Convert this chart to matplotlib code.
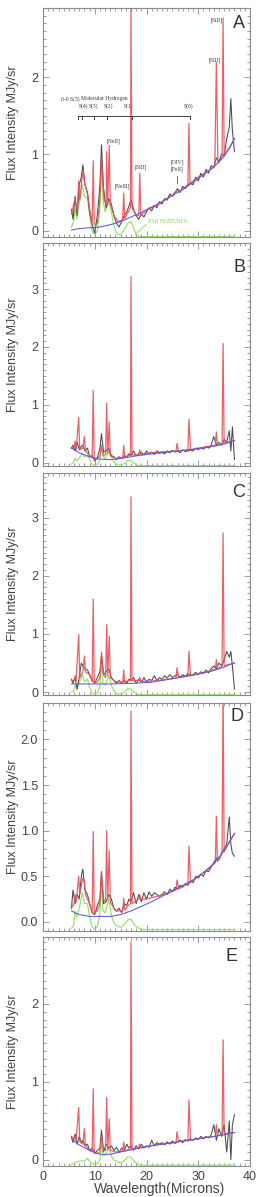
import matplotlib
matplotlib.use("Agg")
import matplotlib.pyplot as plt
from matplotlib.ticker import MultipleLocator

plt.rcParams['font.family'] = ['Liberation Sans', 'DejaVu Sans']

# observed spectrum wavelengths (microns)
obs_wl = [5.5, 5.8, 6.2, 6.6, 7.0, 7.4, 7.7, 8.1, 8.6, 9.0, 9.5, 10.0, 10.5, 11.0, 11.3,
          11.7, 12.2, 12.7, 13.2, 13.7, 14.2, 14.7, 15.2, 15.7, 16.2, 16.6, 17.0, 17.5,
          18.0, 18.5, 19.0, 19.5, 20.0, 20.5, 21.0, 21.5, 22.0, 22.5, 23.0, 23.5, 24.0,
          24.5, 25.0, 25.5, 26.0, 26.5, 27.0, 27.5, 28.0, 28.5, 29.0, 29.5, 30.0, 30.5,
          31.0, 31.5, 32.0, 32.5, 33.0, 33.5, 34.0, 34.5, 35.0, 35.5, 36.0, 36.3, 36.6, 37.0]

obs_A = [0.28, 0.15, 0.45, 0.2, 0.6, 0.7, 0.86, 0.6, 0.5, 0.25, 0.08, -0.03, 0.2, 0.6, 1.12,
         0.55, 0.3, 0.42, 0.35, 0.2, 0.1, 0.05, 0.12, 0.2, 0.25, 0.32, 0.4, 0.28,
         0.2, 0.15, 0.22, 0.18, 0.25, 0.3, 0.26, 0.33, 0.3, 0.38, 0.35, 0.42, 0.4,
         0.48, 0.45, 0.5, 0.55, 0.5, 0.58, 0.55, 0.6, 0.62, 0.6, 0.7, 0.65, 0.75,
         0.7, 0.8, 0.75, 0.85, 0.82, 0.95, 0.9, 1.0, 0.98, 1.2, 1.35, 1.72, 1.3, 1.03]
obs_B = [0.25, 0.3, 0.2, 0.35, 0.22, 0.28, 0.3, 0.2, 0.25, 0.1, 0.12, 0.03, 0.08, 0.25, 0.5,
         0.18, 0.2, 0.25, 0.12, 0.1, 0.05, 0.1, 0.07, 0.12, 0.1, 0.15, 0.12, 0.2,
         0.12, 0.15, 0.18, 0.13, 0.2, 0.15, 0.18, 0.14, 0.2, 0.16, 0.18, 0.15, 0.2,
         0.17, 0.21, 0.18, 0.2, 0.17, 0.22, 0.19, 0.2, 0.22, 0.2, 0.25, 0.22, 0.26,
         0.23, 0.28, 0.25, 0.3, 0.45, 0.3, 0.35, 0.3, 0.4, 0.35, 0.55, 0.2, 0.62, 0.05]
obs_C = [0.22, 0.15, 0.25, 0.05, 0.25, 0.5, 0.45, 0.4, 0.38, 0.3, 0.2, 0.15, 0.25, 0.35, 0.62,
         0.3, 0.35, 0.4, 0.25, 0.2, 0.15, 0.2, 0.15, 0.2, 0.15, 0.22, 0.2, 0.25,
         0.15, 0.22, 0.17, 0.25, 0.18, 0.22, 0.2, 0.28, 0.2, 0.25, 0.22, 0.28, 0.24,
         0.3, 0.25, 0.28, 0.3, 0.25, 0.3, 0.27, 0.32, 0.28, 0.3, 0.34, 0.3, 0.35,
         0.32, 0.38, 0.33, 0.4, 0.45, 0.4, 0.5, 0.45, 0.55, 0.7, 0.6, 0.7, 0.45, 0.05]
obs_D = [0.15, 0.35, 0.2, 0.3, 0.25, 0.5, 0.58, 0.35, 0.3, 0.2, 0.1, 0.08, 0.18, 0.25, 0.55,
         0.2, 0.22, 0.3, 0.25, 0.15, 0.12, 0.15, 0.1, 0.2, 0.18, 0.25, 0.22, 0.32,
         0.2, 0.3, 0.22, 0.32, 0.25, 0.33, 0.28, 0.32, 0.3, 0.28, 0.3, 0.33, 0.3,
         0.36, 0.33, 0.38, 0.36, 0.4, 0.38, 0.42, 0.4, 0.45, 0.43, 0.5, 0.48, 0.52,
         0.5, 0.56, 0.55, 0.6, 0.65, 0.7, 0.68, 0.75, 0.8, 0.85, 1.15, 0.85, 0.75, 0.72]
obs_E = [0.3, 0.22, 0.33, 0.2, 0.3, 0.22, 0.25, 0.18, 0.2, 0.12, 0.15, 0.08, 0.12, 0.15, 0.38,
         0.1, 0.2, 0.15, 0.18, 0.12, 0.16, 0.1, 0.15, 0.12, 0.2, 0.15, 0.18, 0.12,
         0.18, 0.14, 0.2, 0.15, 0.18, 0.16, 0.25, 0.18, 0.22, 0.2, 0.22, 0.19, 0.23,
         0.2, 0.24, 0.21, 0.23, 0.25, 0.22, 0.26, 0.24, 0.27, 0.25, 0.28, 0.26, 0.3,
         0.27, 0.3, 0.28, 0.32, 0.45, 0.25, 0.4, 0.3, 0.45, 0.1, 0.5, 0.0, 0.45, 0.58]

# model fits (red)
fitA_wl = [5.5, 6.2, 6.6, 6.9, 7.1, 7.7, 8.1, 8.6, 9.2, 9.5, 9.7, 9.9, 10.5, 11.0, 11.3, 11.8,
           12.2, 12.3, 12.5, 12.8, 13.0, 13.7, 14.5, 15.4, 15.6, 15.8, 16.5, 16.9, 17.0, 17.2,
           18.0, 18.5, 18.7, 18.9, 20.0, 22.0, 24.0, 25.5, 25.9, 26.3, 28.0, 28.2, 28.4, 30.0,
           32.0, 33.2, 33.5, 33.8, 34.6, 34.8, 35.0, 36.0, 37.0]
fitA = [0.22, 0.42, 0.25, 0.65, 0.4, 0.78, 0.6, 0.48, 0.2, 0.1, 0.91, 0.08, 0.1, 0.4, 0.95, 0.4,
        0.35, 1.03, 0.35, 1.11, 0.35, 0.2, 0.12, 0.15, 0.49, 0.16, 0.25, 0.3, 2.95, 0.3,
        0.2, 0.2, 0.75, 0.2, 0.27, 0.33, 0.42, 0.49, 0.53, 0.5, 0.6, 1.40, 0.62, 0.7,
        0.78, 0.85, 2.19, 0.88, 0.95, 2.77, 1.0, 1.08, 1.2]

fit_wl = [5.5, 6.0, 6.2, 6.4, 6.9, 7.1, 7.7, 8.0, 8.2, 9.0, 9.5, 9.7, 9.9, 10.5, 11.0, 11.3,
          11.7, 12.1, 12.3, 12.5, 12.8, 13.0, 14.0, 15.4, 15.6, 15.8, 16.5, 16.9, 17.0, 17.2,
          18.5, 18.7, 18.9, 20.0, 22.0, 24.0, 25.7, 25.9, 26.2, 28.0, 28.2, 28.5, 30.0, 32.0,
          33.3, 33.5, 33.7, 34.6, 34.8, 35.0, 36.0, 37.0]
fitB = [0.25, 0.25, 0.37, 0.22, 0.78, 0.22, 0.25, 0.45, 0.2, 0.12, 0.08, 1.25, 0.07, 0.06, 0.12, 0.3,
        0.12, 0.15, 1.03, 0.15, 0.7, 0.12, 0.07, 0.08, 0.3, 0.09, 0.12, 0.12, 3.22, 0.13,
        0.13, 0.22, 0.13, 0.16, 0.18, 0.19, 0.2, 0.33, 0.2, 0.22, 0.75, 0.22, 0.25, 0.28,
        0.3, 0.53, 0.3, 0.32, 2.06, 0.33, 0.36, 0.38]
fitC = [0.2, 0.2, 0.28, 0.2, 0.99, 0.25, 0.35, 0.62, 0.35, 0.3, 0.18, 1.6, 0.17, 0.17, 0.25, 0.69,
        0.3, 0.25, 1.16, 0.28, 0.96, 0.25, 0.18, 0.17, 0.38, 0.17, 0.2, 0.2, 3.36, 0.2,
        0.2, 0.25, 0.19, 0.18, 0.2, 0.22, 0.24, 0.42, 0.25, 0.28, 0.7, 0.29, 0.32, 0.36,
        0.4, 0.56, 0.41, 0.44, 2.74, 0.45, 0.48, 0.5]
fitD = [0.15, 0.2, 0.3, 0.22, 0.5, 0.3, 0.48, 0.45, 0.3, 0.2, 0.1, 0.99, 0.1, 0.12, 0.2, 0.55,
        0.25, 0.22, 1.0, 0.25, 0.78, 0.22, 0.12, 0.12, 0.26, 0.13, 0.18, 0.2, 2.31, 0.2,
        0.25, 0.3, 0.25, 0.25, 0.28, 0.31, 0.35, 0.46, 0.36, 0.42, 0.83, 0.43, 0.5, 0.58,
        0.65, 1.16, 0.66, 0.75, 2.6, 0.77, 0.88, 0.97]
fitE = [0.3, 0.27, 0.3, 0.25, 0.67, 0.23, 0.2, 0.4, 0.18, 0.12, 0.1, 0.91, 0.09, 0.08, 0.1, 0.3,
        0.12, 0.12, 0.8, 0.13, 0.53, 0.12, 0.1, 0.11, 0.23, 0.11, 0.13, 0.13, 2.8, 0.13,
        0.15, 0.2, 0.15, 0.17, 0.19, 0.21, 0.22, 0.36, 0.23, 0.25, 0.77, 0.25, 0.27, 0.29,
        0.3, 0.45, 0.31, 0.32, 1.54, 0.33, 0.34, 0.35]

# continuum (blue)
cont_wl = [5.5, 7, 9, 11, 13, 15, 17, 19, 21, 23, 25, 27, 29, 31, 33, 35, 36, 37]
contA = [0.01, 0.03, 0.04, 0.05, 0.08, 0.12, 0.18, 0.24, 0.31, 0.38, 0.46, 0.54, 0.63, 0.73, 0.83, 0.97, 1.07, 1.2]
contB = [0.25, 0.17, 0.1, 0.06, 0.05, 0.07, 0.1, 0.13, 0.15, 0.17, 0.19, 0.21, 0.23, 0.25, 0.28, 0.32, 0.35, 0.38]
contC = [0.14, 0.14, 0.14, 0.14, 0.14, 0.145, 0.15, 0.16, 0.17, 0.2, 0.23, 0.26, 0.29, 0.33, 0.37, 0.43, 0.47, 0.5]
contD = [0.12, 0.08, 0.06, 0.06, 0.06, 0.08, 0.12, 0.17, 0.22, 0.28, 0.34, 0.4, 0.46, 0.54, 0.64, 0.78, 0.87, 0.97]
contE = [0.27, 0.19, 0.12, 0.07, 0.07, 0.1, 0.13, 0.16, 0.18, 0.2, 0.22, 0.24, 0.26, 0.28, 0.3, 0.32, 0.34, 0.35]

# PAH features (green)
pah_wl = [5.5, 5.9, 6.2, 6.5, 7.0, 7.6, 8.0, 8.6, 9.0, 9.5, 10.0, 10.5, 11.0, 11.3, 11.6, 12.0,
          12.7, 13.2, 13.6, 14.0, 14.5, 15.0, 15.5, 16.0, 16.4, 17.0, 17.4, 18.0, 18.5, 19.0, 37.0]
pahA = [0.05, 0.12, 0.3, 0.15, 0.35, 0.6, 0.45, 0.42, 0.2, 0.0, -0.05, 0.0, 0.3, 0.9, 0.4, 0.25,
        0.38, 0.25, 0.1, 0.0, -0.05, -0.05, 0.0, 0.05, 0.1, 0.12, 0.05, -0.04, -0.07, -0.075, -0.075]
pahB = [-0.03, 0.0, 0.08, 0.03, 0.08, 0.15, 0.1, 0.12, 0.05, -0.03, -0.05, -0.03, 0.05, 0.25, 0.1, 0.07,
        0.2, 0.1, 0.03, -0.02, -0.045, -0.045, -0.03, 0.0, 0.04, 0.04, 0.0, -0.04, -0.05, -0.055, -0.055]
pahC = [0.0, 0.02, 0.12, 0.05, 0.15, 0.3, 0.18, 0.22, 0.08, -0.02, -0.04, -0.02, 0.1, 0.5, 0.15, 0.12,
        0.28, 0.12, 0.04, -0.01, -0.035, -0.035, -0.02, 0.02, 0.06, 0.05, 0.01, -0.03, -0.04, -0.045, -0.045]
pahD = [-0.07, -0.04, 0.12, 0.05, 0.15, 0.32, 0.2, 0.2, 0.05, -0.05, -0.08, -0.05, 0.08, 0.45, 0.12, 0.1,
        0.25, 0.08, 0.0, -0.03, -0.05, -0.06, -0.04, -0.01, 0.02, 0.03, -0.01, -0.05, -0.07, -0.085, -0.085]
pahE = [-0.06, -0.05, -0.03, -0.03, -0.02, -0.01, -0.02, 0.02, -0.02, -0.05, -0.06, -0.05, 0.0, 0.21, 0.05, 0.06,
        0.15, 0.05, 0.0, -0.01, -0.03, -0.04, -0.02, 0.01, 0.04, 0.03, 0.0, -0.04, -0.06, -0.07, -0.07]

panels = ['A', 'B', 'C', 'D', 'E']
obs = [obs_A, obs_B, obs_C, obs_D, obs_E]
fits = [(fitA_wl, fitA), (fit_wl, fitB), (fit_wl, fitC), (fit_wl, fitD), (fit_wl, fitE)]
conts = [contA, contB, contC, contD, contE]
pahs = [pahA, pahB, pahC, pahD, pahE]
ylims = [(-0.08, 2.9), (-0.06, 3.8), (-0.05, 3.77), (-0.1, 2.4), (-0.08, 2.86)]
yticks = [[0, 1, 2], [0, 1, 2, 3], [0, 1, 2, 3], [0.0, 0.5, 1.0, 1.5, 2.0], [0, 1, 2]]
letter_pos = [(0.947, 0.934), (0.95, 0.892), (0.947, 0.914), (0.938, 0.939), (0.913, 0.917)]

# H2 line marks in panel A
h2_x = [6.7, 7.6, 9.8, 12.3, 17.2, 28.5]
h2_labels = [('S(4)', 7.8), ('S(3)', 9.8), ('S(2)', 12.6), ('S(1)', 16.5), ('S(0)', 28.2)]
ion_labels = [('[SiII]', 33.5, 2.74), ('[SIII]', 33.2, 2.22), ('[NeII]', 13.7, 1.17),
              ('[SIII]', 18.8, 0.83), ('[NeIII]', 15.4, 0.58), ('[OIV]', 25.9, 0.89),
              ('[FeII]', 25.9, 0.80)]

# axes boxes in figure pixels (top, bottom) for a 262x1197 canvas
W, H = 262, 1197
boxes = [(8, 237), (243, 466), (473, 695), (703, 931), (937, 1166)]

fig = plt.figure(figsize=(W / 100, H / 100), dpi=100)
gray = '#8a8a8a'
txt = '#444444'
serif = ['Liberation Serif', 'DejaVu Serif']

for i, p in enumerate(panels):
    top, bot = boxes[i]
    ax = fig.add_axes([43 / W, (H - bot) / H, 207 / W, (bot - top) / H])
    ax.plot(pah_wl, pahs[i], color='#8ee060', lw=0.8, zorder=2)
    ax.plot(obs_wl, obs[i], color='#4a4a4a', lw=0.75, zorder=3)
    ax.plot(fits[i][0], fits[i][1], color='#e8505a', lw=0.9, alpha=0.9, zorder=4)
    ax.plot(cont_wl, conts[i], color='#5a5ae0', lw=0.75, zorder=5)

    ax.set_xlim(0, 40)
    ax.set_ylim(*ylims[i])
    ax.set_yticks(yticks[i])
    if p == 'D':
        ax.set_yticklabels(['%.1f' % v for v in yticks[i]])
    ax.xaxis.set_major_locator(MultipleLocator(10))
    ax.xaxis.set_minor_locator(MultipleLocator(1))
    ax.yaxis.set_minor_locator(MultipleLocator(0.1))
    ax.tick_params(which='both', direction='in', top=True, right=True, colors=gray,
                   labelcolor=txt, labelsize=9, width=0.6)
    ax.tick_params(which='major', length=4)
    ax.tick_params(which='minor', length=2)
    for s in ax.spines.values():
        s.set_color(gray)
        s.set_linewidth(0.8)
    ax.set_ylabel('Flux Intensity MJy/sr', fontsize=9, color=txt)
    ax.yaxis.set_label_coords(-0.115, 0.5)
    if p != 'E':
        ax.tick_params(labelbottom=False)
    else:
        ax.set_xlabel('Wavelength(Microns)', fontsize=10, color=txt)
        ax.xaxis.set_label_coords(0.565, -0.072)
    ax.text(letter_pos[i][0], letter_pos[i][1], p, transform=ax.transAxes,
            ha='center', va='center', fontsize=13, color='#333333')

    if p == 'A':
        ax.plot([h2_x[0], h2_x[-1]], [1.5, 1.5], color='#444444', lw=0.7, zorder=6)
        for hx in h2_x:
            ax.plot([hx, hx], [1.5, 1.46], color='#444444', lw=0.7, zorder=6)
        for lab, lx in h2_labels:
            ax.text(lx, 1.62, lab, fontsize=4, family=serif, color='#333333',
                    ha='center', va='center')
        ax.text(5.3, 1.72, '0-0 S(5)', fontsize=4, family=serif, color='#333333',
                ha='center', va='center')
        ax.text(11.9, 1.72, 'Molecular Hydrogen', fontsize=4, family=serif,
                color='#333333', ha='center', va='center')
        for lab, lx, ly in ion_labels:
            ax.text(lx, ly, lab, fontsize=4, family=serif, color='#333333',
                    ha='center', va='center')
        ax.plot([25.9, 25.9], [0.62, 0.71], color='#555555', lw=0.6)
        ax.text(24.1, 0.12, 'PAH FEATURES', fontsize=4, family=serif,
                color='#7ad84a', ha='center', va='center')
        ax.plot([19.9, 17.8], [0.08, -0.05], color='#8ee060', lw=0.7)

fig.savefig('out.png', dpi=100)
